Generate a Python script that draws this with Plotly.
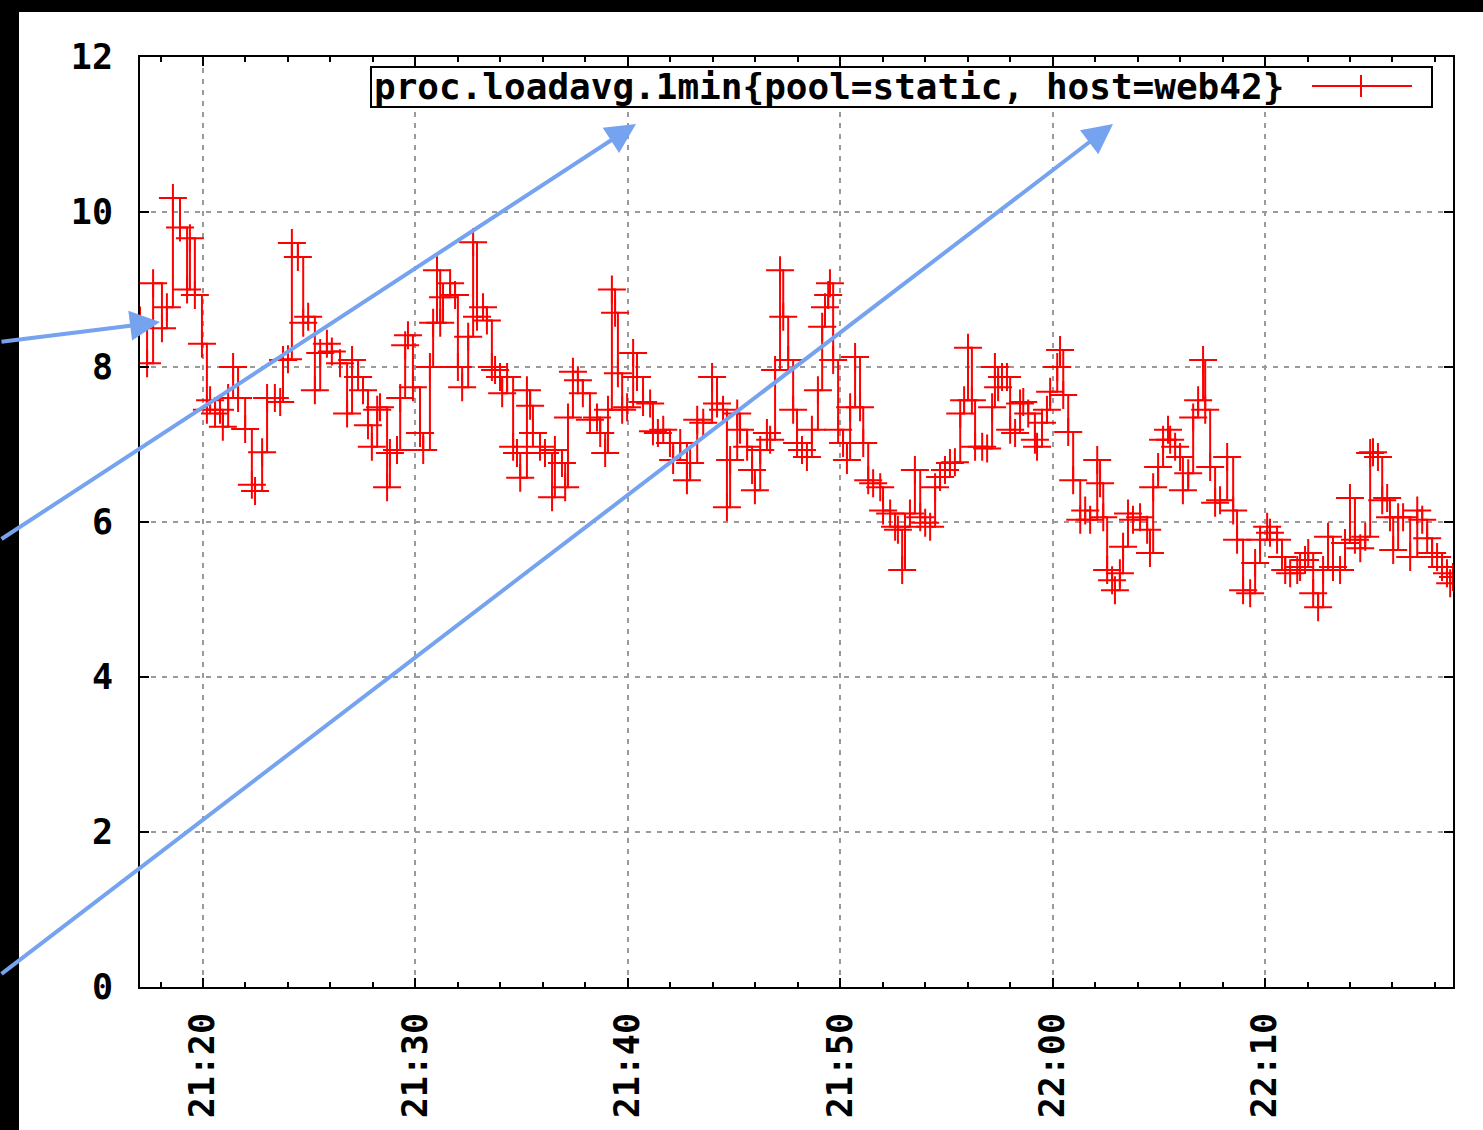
import plotly.graph_objects as go
import pandas as pd

# ---- data (time of day, load value) ----
times = [
"21:17:02","21:17:22","21:17:39","21:18:04","21:18:18","21:18:35","21:18:55","21:19:15","21:19:23","21:19:37",
"21:19:57","21:20:11","21:20:20","21:20:34","21:20:48","21:20:56","21:21:11","21:21:25","21:21:39","21:21:59",
"21:22:18","21:22:27","21:22:47","21:23:01","21:23:23","21:23:38","21:23:46","21:24:00","21:24:11","21:24:28",
"21:24:43","21:24:57","21:25:16","21:25:31","21:25:50","21:26:04","21:26:27","21:26:47","21:27:01","21:27:18",
"21:27:32","21:27:46","21:27:57","21:28:12","21:28:20","21:28:40","21:28:48","21:29:08","21:29:17","21:29:31",
"21:29:39","21:29:53","21:30:13","21:30:22","21:30:41","21:30:50","21:31:01","21:31:10","21:31:18","21:31:38",
"21:31:52","21:32:00","21:32:12","21:32:29","21:32:43","21:32:54","21:33:11","21:33:22","21:33:36","21:33:45",
"21:33:59","21:34:05","21:34:19","21:34:36","21:34:47","21:34:56","21:35:15","21:35:24","21:35:32","21:35:52",
"21:36:06","21:36:26","21:36:34","21:36:54","21:37:03","21:37:11","21:37:25","21:37:39","21:37:53","21:38:13",
"21:38:33","21:38:42","21:38:56","21:39:04","21:39:15","21:39:24","21:39:32","21:39:44","21:39:58","21:40:15",
"21:40:26","21:40:43","21:41:03","21:41:11","21:41:25","21:41:40","21:41:59","21:42:08","21:42:28","21:42:47",
"21:42:56","21:43:16","21:43:33","21:43:58","21:44:12","21:44:29","21:44:40","21:44:49","21:45:09","21:45:17",
"21:45:37","21:45:51","21:45:59","21:46:14","21:46:33","21:46:42","21:46:56","21:47:10","21:47:19","21:47:33",
"21:47:47","21:47:58","21:48:12","21:48:26","21:48:40","21:48:57","21:49:09","21:49:17","21:49:26","21:49:31",
"21:49:40","21:49:54","21:50:08","21:50:19","21:50:28","21:50:42","21:50:56","21:51:05","21:51:19","21:51:33",
"21:51:53","21:52:01","21:52:21","21:52:35","21:52:43","21:52:55","21:53:03","21:53:17","21:53:31","21:53:46",
"21:54:00","21:54:14","21:54:28","21:54:42","21:54:56","21:55:10","21:55:24","21:55:39","21:55:50","21:56:01",
"21:56:12","21:56:21","21:56:41","21:56:55","21:57:09","21:57:17","21:57:26","21:57:37","21:57:51","21:58:00",
"21:58:14","21:58:28","21:58:37","21:58:51","21:59:10","21:59:16","21:59:30","21:59:44","21:59:53","22:00:13",
"22:00:21","22:00:30","22:00:44","22:00:58","22:01:18","22:01:32","22:01:46","22:02:06","22:02:14","22:02:23",
"22:02:34","22:02:48","22:02:56","22:03:10","22:03:19","22:03:33","22:03:47","22:04:07","22:04:27","22:04:35",
"22:04:44","22:04:58","22:05:12","22:05:26","22:05:32","22:05:46","22:06:00","22:06:08","22:06:23","22:06:37",
"22:06:51","22:07:05","22:07:11","22:07:25","22:07:39","22:07:53","22:08:13","22:08:30","22:08:41","22:08:58",
"22:09:18","22:09:32","22:09:46","22:10:06","22:10:14","22:10:34","22:10:48","22:10:57","22:11:11","22:11:31",
"22:11:39","22:11:53","22:12:02","22:12:16","22:12:30","22:12:44","22:12:58","22:13:12","22:13:32","22:13:46",
"22:14:00","22:14:14","22:14:29","22:14:43","22:14:57","22:15:05","22:15:19","22:15:31","22:15:45","22:15:53",
"22:16:02","22:16:16","22:16:30","22:16:50","22:17:10","22:17:24","22:17:38","22:17:52","22:18:06","22:18:20",
"22:18:34","22:18:43","22:18:51",
]
loadavg = [
8.60,8.05,9.08,8.50,8.77,10.18,9.80,9.00,9.66,8.93,
8.30,7.45,7.57,7.40,7.45,7.23,7.60,8.00,7.60,7.20,
6.48,6.40,6.90,7.60,7.60,7.55,8.09,8.10,9.60,9.42,
8.57,8.65,7.70,8.18,8.30,8.20,8.05,7.40,8.09,7.87,
7.70,7.25,6.97,7.45,7.48,6.45,6.89,6.93,7.60,8.28,
8.41,7.74,7.15,6.93,8.00,8.57,9.25,8.57,8.90,9.08,
8.93,8.00,7.74,8.39,9.61,8.65,8.77,8.60,8.00,7.96,
7.87,7.66,7.87,6.97,6.89,6.57,7.70,7.50,7.15,6.97,
6.89,6.32,6.93,6.76,6.45,7.35,7.94,7.83,7.66,7.32,
7.35,7.15,6.89,7.45,9.00,8.70,7.92,7.45,7.48,8.18,
7.87,7.55,7.53,7.17,7.15,7.19,7.02,6.80,7.02,6.54,
6.76,7.32,7.28,7.87,7.53,7.45,6.19,6.80,7.40,7.19,
6.97,6.67,6.41,6.93,7.15,7.06,7.96,9.25,8.65,8.09,
7.45,7.02,6.93,6.84,7.19,7.70,8.52,8.77,8.93,9.08,
8.09,7.19,7.02,6.80,7.48,8.13,7.48,7.02,6.54,6.50,
6.45,6.15,6.11,5.94,5.90,5.38,5.94,6.11,6.67,6.06,
5.99,5.94,6.45,6.58,6.67,6.76,6.77,7.40,7.57,8.25,
7.57,6.97,6.97,6.95,7.48,8.00,7.74,7.87,7.87,7.19,
7.15,7.53,7.55,7.40,7.06,6.97,7.28,7.45,7.68,8.00,
8.22,7.64,7.16,6.54,6.03,6.15,6.03,6.80,6.50,6.06,
5.38,5.25,5.12,5.34,5.68,6.11,6.03,6.06,5.90,5.60,
6.45,6.71,7.06,7.19,7.06,6.97,6.84,6.41,6.63,7.35,
7.57,8.09,7.45,6.71,6.25,6.28,6.84,6.15,5.77,5.12,
5.08,5.47,5.77,5.94,5.86,5.77,5.55,5.38,5.34,5.38,
5.42,5.51,5.60,5.08,4.90,5.38,5.81,5.42,5.38,5.73,
6.31,5.77,5.66,5.81,6.89,6.90,6.84,6.28,6.31,6.06,
5.64,6.06,6.06,5.55,6.15,6.03,5.79,5.60,5.55,5.42,
5.34,5.21,5.29,
]
series_name = "proc.loadavg.1min{pool=static, host=web42}"
day = "2013-01-01 "
x_start, x_end = "21:17:02", "22:18:51"
y_ticks = [0, 2, 4, 6, 8, 10, 12]

# ---- figure geometry (pixels) ----
W, H = 1483, 1130
L, R, T, B = 140, 30, 57, 143
PW, PH = W - L - R, H - T - B

def px(xp):
    return (xp - L) / PW

def py(yp):
    return (H - B - yp) / PH

FONT = "DejaVu Sans Mono"
RED = "#ff0000"
BLUE = "#76a3ef"

ts = pd.to_datetime([day + t for t in times])

fig = go.Figure()
fig.add_trace(go.Scatter(
    x=ts, y=loadavg, mode="lines+markers", name=series_name,
    line=dict(color=RED, width=2, shape="hv"),
    marker=dict(symbol="cross-thin", size=20, color=RED,
                line=dict(color=RED, width=2)),
    cliponaxis=True, showlegend=False,
))

axis_common = dict(
    showline=True, linecolor="black", linewidth=2, mirror="ticks",
    ticks="inside", ticklen=9, tickwidth=2, tickcolor="black",
    showgrid=True, gridcolor="#9a9a9a", gridwidth=2, griddash="5px,6px",
    zeroline=False, automargin=False,
    tickfont=dict(family=FONT, size=35, color="black", weight="bold"),
)

fig.update_xaxes(
    type="date", range=[day + x_start, day + x_end],
    tick0=day + "21:20:00", dtick=600000, tickformat="%H:%M",
    tickangle=-90, ticklabelstandoff=10,
    minor=dict(dtick=120000, tick0=day + "21:20:00", ticks="inside",
               ticklen=5, tickwidth=1.5, tickcolor="black", showgrid=False),
    **axis_common,
)
fig.update_yaxes(
    range=[0, 12], tickvals=y_ticks, ticklabelstandoff=18,
    **axis_common,
)

shapes = [
    # white page panel on black surround
    dict(type="rect", xref="paper", yref="paper",
         x0=px(19), x1=px(W + 5), y0=py(H + 5), y1=py(12),
         fillcolor="white", line=dict(width=0), layer="below"),
    # key box
    dict(type="rect", xref="paper", yref="paper",
         x0=px(371), x1=px(1432), y0=py(107), y1=py(67),
         fillcolor="white", line=dict(color="black", width=2), layer="above"),
    # key sample line and point
    dict(type="line", xref="paper", yref="paper",
         x0=px(1312), x1=px(1412), y0=py(86), y1=py(86),
         line=dict(color=RED, width=2), layer="above"),
    dict(type="line", xref="paper", yref="paper",
         x0=px(1361), x1=px(1361), y0=py(97), y1=py(75),
         line=dict(color=RED, width=2), layer="above"),
]

annotations = [
    dict(xref="paper", yref="paper", x=px(372), y=py(87),
         xanchor="left", yanchor="middle", showarrow=False,
         text=series_name,
         font=dict(family=FONT, size=36, color="black", weight="bold")),
]

# hand-drawn style blue arrows (head position, tail offset in px)
arrows = [((160, 322), (-160, 20)),
          ((636, 124), (-636, 416)),
          ((1113, 124), (-1113, 851))]
for (hx, hy), (ax, ay) in arrows:
    annotations.append(dict(
        xref="paper", yref="paper", x=px(hx), y=py(hy),
        ax=ax, ay=ay, axref="pixel", ayref="pixel",
        showarrow=True, arrowhead=2, arrowsize=1.5, arrowwidth=4,
        arrowcolor=BLUE, text=""))

fig.update_layout(
    width=W, height=H, autosize=False,
    margin=dict(l=L, r=R, t=T, b=B, pad=0, autoexpand=False),
    paper_bgcolor="black", plot_bgcolor="white",
    shapes=shapes, annotations=annotations,
    showlegend=False,
)

fig.write_html(
    "out.html",
    config={"displayModeBar": False},
    post_script="document.body.style.margin='0';"
                "document.body.style.background='black';"
                "document.body.style.overflow='hidden';",
)
